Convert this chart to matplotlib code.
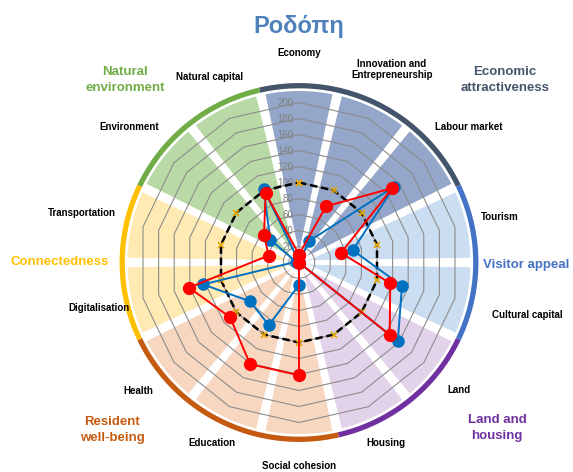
import numpy as np
import matplotlib.pyplot as plt

plt.rcParams['font.family'] = ['Liberation Sans', 'DejaVu Sans']

# categories, clockwise from the top
categories = ["Economy", "Innovation and\nEntrepreneurship", "Labour market", "Tourism",
              "Cultural capital", "Land", "Housing", "Social cohesion", "Education",
              "Health", "Digitalisation", "Transportation", "Environment", "Natural capital"]
group_of = [0, 0, 0, 1, 1, 2, 2, 3, 3, 3, 4, 4, 5, 5]

groups = ["Economic\nattractiveness", "Visitor appeal", "Land and\nhousing",
          "Resident\nwell-being", "Connectedness", "Natural\nenvironment"]
group_dark = ["#44546A", "#4472C4", "#7030A0", "#C55A11", "#FFC000", "#70AD47"]
group_light = ["#94A6C9", "#CBDDF1", "#E2D3EB", "#F8D7C0", "#FFEAB3", "#B9DAA7"]

reference = [100] * 14
blue_vals = [1, 30, 152, 69, 132, 158, 0, 28, 87, 78, 123, 4, 46, 102]
red_vals = [10, 78, 149, 54, 117, 145, 0, 141, 141, 110, 141, 39, 56, 96]

ticks = list(range(0, 201, 20))

n = len(categories)
theta = np.arange(n) * 2 * np.pi / n
step = 2 * np.pi / n

fig = plt.figure(figsize=(5.73, 4.72), dpi=100)
W, H = 573, 472
cx, cy, rad = 299, 262.5, 180  # pixels
ax = fig.add_axes([(cx - rad) / W, (H - cy - rad) / H, 2 * rad / W, 2 * rad / H],
                  projection='polar')
ax.set_theta_zero_location('N')
ax.set_theta_direction(-1)
ax.set_ylim(0, 225)
ax.set_axis_off()

# background wedges
ax.bar(theta, 217, width=step * 0.93, bottom=0,
       color=[group_light[g] for g in group_of], edgecolor='white', linewidth=3, zorder=1)

# outer ring per group
for g in range(len(groups)):
    idx = [i for i in range(n) if group_of[i] == g]
    t0 = theta[idx[0]] - step / 2
    t1 = theta[idx[-1]] + step / 2
    tt = np.linspace(t0, t1, 100)
    ax.plot(tt, np.full_like(tt, 221), color=group_dark[g], lw=3.8,
            solid_capstyle='butt', zorder=2)

# polygon grid
tc = np.append(theta, theta[0])
for r in ticks[1:]:
    ax.plot(tc, np.full(n + 1, r), color='#8C8C8C', lw=0.8, zorder=3)
for r in ticks:
    ax.annotate(str(r), (0, r), xytext=(-4, 0), textcoords='offset points',
                ha='right', va='center', fontsize=7, color='#7F7F7F', zorder=4)

# series
def closed(v):
    return np.append(v, v[0])

ax.plot(tc, closed(reference), color='black', ls=(0, (3, 1.5)), lw=1.8,
        marker='x', markersize=5, markeredgecolor='#E6A800', markeredgewidth=1.2, zorder=5)
ax.plot(tc, closed(blue_vals), color='#0070C0', lw=1.4, marker='o', markersize=8, zorder=6)
ax.plot(tc, closed(red_vals), color='#FF0000', lw=1.4, marker='o', markersize=8.5, zorder=7)

# category labels
label_r = [262, 268, 271, 258, 293, 255, 251, 254, 250, 257, 257, 279, 272, 258]
for t, lab, r in zip(theta, categories, label_r):
    ax.text(t, r, lab, ha='center', va='center', fontsize=7, color='black',
            fontweight='bold', clip_on=False, linespacing=1.15)

# group labels (pixel positions)
group_pos = [(505, 80), (526, 265), (497, 428), (112, 430), (60, 262), (125, 80)]
for g, (x, y) in enumerate(group_pos):
    fig.text(x / W, 1 - y / H, groups[g], ha='center', va='center', fontsize=9.5,
             fontweight='bold', color=group_dark[g], linespacing=1.35)

fig.text(299 / W, 1 - 26 / H, "Ροδόπη", ha='center', va='center', fontsize=17,
         fontweight='bold', color='#4F81BD')

fig.savefig("out.png", dpi=100)
